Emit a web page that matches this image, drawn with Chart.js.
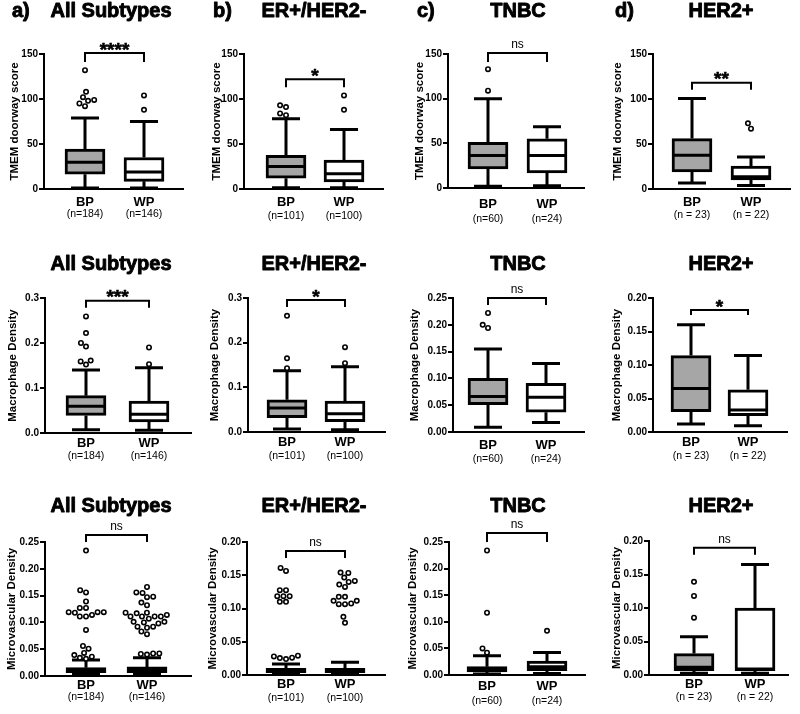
<!DOCTYPE html>
<html><head><meta charset="utf-8">
<script src="https://cdn.jsdelivr.net/npm/chart.js@4.4.1/dist/chart.umd.min.js"></script>
<style>
html,body{margin:0;padding:0;background:#fff;}
#wrap{position:relative;width:800px;height:714px;overflow:hidden;background:#fff;}
canvas{position:absolute;}
</style></head><body><div id="wrap"></div>
<script>
// ================= DATA =================
const groups = ['BP', 'WP'];
const subtypes = ['All Subtypes', 'ER+/HER2-', 'TNBC', 'HER2+'];
const panelLetters = ['a)', 'b)', 'c)', 'd)'];
const metricLabels = ['TMEM doorway score', 'Macrophage Density', 'Microvascular Density'];
const nLabelsBP = ['(n=184)', '(n=101)', '(n=60)', '(n = 23)'];
const nLabelsWP = ['(n=146)', '(n=100)', '(n=24)', '(n = 22)'];
const significance = [['****', '*', 'ns', '**'], ['***', '*', 'ns', '*'], ['ns', 'ns', 'ns', 'ns']];
const yAxisMax = [[150, 150, 150, 150], [0.3, 0.3, 0.25, 0.2], [0.25, 0.2, 0.25, 0.2]];
const yAxisStep = [[50, 50, 50, 50], [0.1, 0.1, 0.05, 0.05], [0.05, 0.05, 0.05, 0.05]];
// box statistics: [min whisker, Q1, median, Q3, max whisker]
const tmemBP = [[1, 16.4, 29.8, 44.3, 79], [1.5, 12, 25, 37.4, 78], [2, 21.4, 36.4, 51, 100], [6.7, 19, 37.5, 56, 100.6]];
const tmemWP = [[1, 8.5, 19, 35, 75], [1.5, 8, 17, 32, 66], [2.6, 17, 36.4, 55, 68.6], [4, 10, 13.7, 25.6, 35.6]];
const macBP = [[0.0074, 0.039, 0.0596, 0.083, 0.14], [0.0067, 0.032, 0.054, 0.072, 0.137], [0.0087, 0.051, 0.066, 0.1, 0.155], [0.012, 0.0303, 0.065, 0.114, 0.16]];
const macWP = [[0.006, 0.0246, 0.0417, 0.0707, 0.145], [0.005, 0.023, 0.041, 0.069, 0.146], [0.0175, 0.037, 0.065, 0.091, 0.128], [0.0095, 0.0244, 0.033, 0.063, 0.114]];
const mvdBP = [[0.003, 0.006, 0.012, 0.0156, 0.03], [0.001, 0.0035, 0.0065, 0.01, 0.0165], [0.002, 0.006, 0.0106, 0.0156, 0.036], [0.0025, 0.0065, 0.0114, 0.032, 0.057]];
const mvdWP = [[0.003, 0.006, 0.011, 0.017, 0.034], [0.001, 0.0035, 0.0065, 0.01, 0.019], [0.003, 0.008, 0.0156, 0.026, 0.0425], [0.0025, 0.0065, 0.009, 0.1, 0.165]];
// outliers
const tmemBPOut = [[92, 95, 98, 99, 102, 108, 132], [82, 84, 91, 93], [109, 133], []];
const tmemWPOut = [[88, 104], [88, 104], [], [67, 73]];
const macBPOut = [[0.152, 0.159, 0.161, 0.192, 0.2, 0.222, 0.259], [0.143, 0.165, 0.26], [0.194, 0.2, 0.222], []];
const macWPOut = [[0.153, 0.19], [0.154, 0.19], [], []];
const mvdBPOut = [
  [0.032, 0.034, 0.036, 0.039, 0.043, 0.051, 0.056, 0.086, 0.111, 0.111, 0.114, 0.118, 0.119, 0.119, 0.119, 0.127, 0.127, 0.139, 0.156, 0.16, 0.234],
  [0.024, 0.0255, 0.026, 0.028, 0.029, 0.11, 0.11, 0.1185, 0.1185, 0.1185, 0.1275, 0.1275, 0.1565, 0.161],
  [0.042, 0.05, 0.117, 0.234],
  [0.0856, 0.118, 0.139]
];
const mvdWPOut = [
  [0.04, 0.041, 0.042, 0.042, 0.078, 0.083, 0.09, 0.092, 0.092, 0.098, 0.1, 0.101, 0.101, 0.107, 0.111, 0.111, 0.111, 0.111, 0.114, 0.117, 0.118, 0.118, 0.132, 0.137, 0.147, 0.148, 0.155, 0.156, 0.166],
  [0.0785, 0.0875, 0.1065, 0.1065, 0.1075, 0.1115, 0.1115, 0.1175, 0.1175, 0.1325, 0.136, 0.14, 0.1415, 0.1465, 0.1535, 0.154],
  [0.083],
  []
];
// bracket height (in axis units) for the significance annotation
const bracketY = [[151, 122, 151, 118], [0.294, 0.2955, 0.25, 0.182], [0.263, 0.1865, 0.267, 0.19]];

const statsBP = [tmemBP, macBP, mvdBP];
const statsWP = [tmemWP, macWP, mvdWP];
const outBP = [tmemBPOut, macBPOut, mvdBPOut];
const outWP = [tmemWPOut, macWPOut, mvdWPOut];

// ================= LAYOUT (page pixels) =================
const layout = [
  [
    {ax: 44, bp: 85, wp: 144, right: 183, top: 54, bottom: 189, titleX: 15, bpOff: 18, nOff: 29, drop: 9},
    {ax: 244, bp: 286, wp: 344, right: 383, top: 54, bottom: 189, titleX: 217, bpOff: 18, nOff: 31, drop: 8},
    {ax: 448, bp: 488, wp: 547, right: 584, top: 54, bottom: 188, titleX: 420, bpOff: 21, nOff: 35, drop: 9},
    {ax: 653, bp: 692, wp: 751, right: 790, top: 54, bottom: 189, titleX: 618, bpOff: 18, nOff: 30, drop: 7}
  ],
  [
    {ax: 45, bp: 86, wp: 149, right: 191, top: 298, bottom: 433, titleX: 13, bpOff: 14.5, nOff: 27, drop: 7},
    {ax: 248, bp: 287, wp: 345, right: 385, top: 298, bottom: 432, titleX: 215, bpOff: 14.5, nOff: 27.5, drop: 7},
    {ax: 453, bp: 488, wp: 546, right: 584, top: 298, bottom: 432, titleX: 415, bpOff: 17.5, nOff: 31, drop: 7},
    {ax: 653, bp: 691, wp: 748, right: 787, top: 298, bottom: 432, titleX: 617, bpOff: 14.5, nOff: 27.5, drop: 5}
  ],
  [
    {ax: 45, bp: 86, wp: 147, right: 191, top: 542, bottom: 676, titleX: 12, bpOff: 13.5, nOff: 25, drop: 7},
    {ax: 247, bp: 286, wp: 345, right: 385, top: 542, bottom: 675, titleX: 213, bpOff: 14, nOff: 26.5, drop: 7},
    {ax: 449, bp: 487, wp: 547, right: 585, top: 542, bottom: 675, titleX: 413, bpOff: 15.5, nOff: 30, drop: 9},
    {ax: 649, bp: 694, wp: 755, right: 788, top: 541, bottom: 675, titleX: 617, bpOff: 14, nOff: 25.5, drop: 7}
  ]
];
const titleCenters = [111, 314, 518, 721];
const titleBaselines = [17, 270, 512];
const letterX = [12, 213, 417, 615];

const FONT = '"Liberation Sans", Arial, Helvetica, sans-serif';
const GRAY = '#a6a6a6';
const BAR_W = 40, CAP_W = 28, LINE_W = 3;
const BP_FONT = 13, N_FONT = 10.5, YT_FONT = 11.5;

Chart.defaults.font.family = FONT;
Chart.defaults.color = '#000';

const wrap = document.getElementById('wrap');

function swarm(values, pxPerY, d) {
  const order = values.map((v, i) => i).sort((a, b) => values[a] - values[b]);
  const placed = [];
  const off = new Array(values.length).fill(0);
  for (const i of order) {
    const y = values[i] * pxPerY;
    const near = placed.filter(p => Math.abs(p.y - y) < d);
    const cands = [0];
    near.forEach(p => {
      const dx = Math.sqrt(d * d - (p.y - y) * (p.y - y));
      cands.push(p.x + dx, p.x - dx);
    });
    cands.sort((a, b) => (Math.abs(a) - Math.abs(b)) || (a - b));
    let x = 0;
    for (const cx of cands) {
      if (near.every(p => (p.x - cx) * (p.x - cx) + (p.y - y) * (p.y - y) >= d * d - 1e-6)) { x = cx; break; }
    }
    placed.push({x, y});
    off[i] = x;
  }
  return off;
}

function makePanel(r, c) {
  const L = layout[r][c];
  const colX = c * 200, rowY = r * 240, W = 200, H = r === 2 ? 234 : 240;
  const cv = document.createElement('canvas');
  cv.width = W; cv.height = H;
  cv.style.left = colX + 'px'; cv.style.top = rowY + 'px';
  cv.style.width = W + 'px'; cv.style.height = H + 'px';
  wrap.appendChild(cv);

  const yMax = yAxisMax[r][c], yStep = yAxisStep[r][c];
  const dec = r === 0 ? 0 : (yStep >= 0.1 ? 1 : 2);
  const unit = L.wp - L.bp;
  const xmin = 1 - (L.bp - L.ax) / unit;
  const xmax = 2 + (L.right - L.wp) / unit;
  const pxPerY = (L.bottom - L.top) / yMax;
  const titleLH = YT_FONT * 1.2;
  const padLeft = L.titleX - colX - titleLH / 2;
  const yAxisWidth = L.ax - colX - padLeft;
  const padTop = L.top - rowY;
  const padRight = colX + W - L.right;
  const xPad = L.bpOff - 0.9465 * BP_FONT;
  const x2Pad = 2;
  const hx = L.nOff - 0.9465 * N_FONT - x2Pad;
  const hx2 = 16;
  const padBottom = H - (L.bottom - rowY) - hx - hx2;

  const sB = statsBP[r][c], sW = statsWP[r][c];
  const oB = outBP[r][c], oW = outWP[r][c];
  const pts = [];
  [[oB, 1], [oW, 2]].forEach(([arr, xc]) => {
    const offs = swarm(arr, pxPerY, 6.2);
    arr.forEach((v, i) => pts.push({x: xc + offs[i] / unit, y: v}));
  });

  const nLabels = [nLabelsBP[c], nLabelsWP[c]];
  const setTicks = s => { s.ticks = groups.map((g, i) => ({value: i + 1})); };

  const boxPlugin = {
    id: 'boxExtras' + r + c,
    beforeDatasetsDraw(chart) {
      const ctx = chart.ctx, xs = chart.scales.x, ys = chart.scales.y;
      ctx.save();
      ctx.strokeStyle = '#000'; ctx.lineWidth = LINE_W; ctx.lineCap = 'butt';
      [sB, sW].forEach((s, i) => {
        const x = xs.getPixelForValue(i + 1);
        const yMin = ys.getPixelForValue(s[0]), yQ1 = ys.getPixelForValue(s[1]);
        const yQ3 = ys.getPixelForValue(s[3]), yMx = ys.getPixelForValue(s[4]);
        ctx.beginPath();
        ctx.moveTo(x, yQ3); ctx.lineTo(x, yMx);
        ctx.moveTo(x, yQ1); ctx.lineTo(x, yMin);
        ctx.moveTo(x - CAP_W / 2, yMx); ctx.lineTo(x + CAP_W / 2, yMx);
        ctx.moveTo(x - CAP_W / 2, yMin); ctx.lineTo(x + CAP_W / 2, yMin);
        ctx.stroke();
      });
      ctx.restore();
    },
    afterDatasetDraw(chart, args) {
      if (args.meta.type !== 'bar') return;
      const ctx = chart.ctx, xs = chart.scales.x, ys = chart.scales.y;
      ctx.save();
      ctx.strokeStyle = '#000'; ctx.lineWidth = LINE_W;
      [sB, sW].forEach((s, i) => {
        const x = xs.getPixelForValue(i + 1);
        const y = ys.getPixelForValue(s[2]);
        ctx.beginPath();
        ctx.moveTo(x - BAR_W / 2, y); ctx.lineTo(x + BAR_W / 2, y);
        ctx.stroke();
      });
      ctx.restore();
    },
    afterDraw(chart) {
      const ctx = chart.ctx, xs = chart.scales.x, ys = chart.scales.y;
      ctx.save();
      // bracket
      const xb = xs.getPixelForValue(1), xw = xs.getPixelForValue(2);
      const yb = ys.getPixelForValue(bracketY[r][c]);
      ctx.strokeStyle = '#000'; ctx.lineWidth = 2;
      ctx.beginPath();
      ctx.moveTo(xb, yb + L.drop); ctx.lineTo(xb, yb); ctx.lineTo(xw, yb); ctx.lineTo(xw, yb + L.drop);
      ctx.stroke();
      const sig = significance[r][c];
      ctx.fillStyle = '#000'; ctx.textAlign = 'center'; ctx.textBaseline = 'alphabetic';
      if (sig === 'ns') {
        ctx.font = '12px ' + FONT;
        ctx.fillText(sig, (xb + xw) / 2, yb - 5);
      } else {
        ctx.font = 'bold 19px ' + FONT;
        ctx.lineWidth = 0.6;
        ctx.fillText(sig, (xb + xw) / 2, yb + 2.5);
        ctx.strokeText(sig, (xb + xw) / 2, yb + 2.5);
      }
      // panel title (slightly heavier than plain bold)
      ctx.font = 'bold 20px ' + FONT;
      ctx.lineWidth = 0.9; ctx.lineJoin = 'round';
      ctx.textAlign = 'center';
      ctx.fillText(subtypes[c], titleCenters[c] - colX, titleBaselines[r] - rowY);
      ctx.strokeText(subtypes[c], titleCenters[c] - colX, titleBaselines[r] - rowY);
      if (r === 0) {
        ctx.textAlign = 'left';
        ctx.fillText(panelLetters[c], letterX[c] - colX, titleBaselines[r] - rowY);
        ctx.strokeText(panelLetters[c], letterX[c] - colX, titleBaselines[r] - rowY);
      }
      ctx.restore();
    }
  };

  new Chart(cv, {
    type: 'bar',
    data: {
      datasets: [
        {type: 'scatter', data: pts, pointRadius: 2.2, pointHoverRadius: 2.2, pointBorderWidth: 1.6,
         pointBackgroundColor: '#fff', pointBorderColor: '#000', clip: false, order: 0},
        {type: 'bar', data: [{x: 1, y: [sB[1], sB[3]]}, {x: 2, y: [sW[1], sW[3]]}],
         backgroundColor: [GRAY, '#fff'], borderColor: '#000', borderWidth: LINE_W, borderSkipped: false,
         barThickness: BAR_W, clip: false, order: 1}
      ]
    },
    options: {
      responsive: false, animation: false, devicePixelRatio: 1,
      layout: {padding: {left: padLeft, top: padTop, right: padRight, bottom: padBottom}},
      plugins: {legend: {display: false}, tooltip: {enabled: false}, title: {display: false}},
      scales: {
        x: {
          type: 'linear', position: 'bottom', min: xmin, max: xmax, offset: false,
          grid: {display: false, drawTicks: false},
          border: {display: true, color: '#000', width: 2},
          afterBuildTicks: setTicks,
          ticks: {callback: v => groups[v - 1] || '', font: {size: BP_FONT, weight: 'bold'}, color: '#000',
                  padding: xPad, autoSkip: false, maxRotation: 0},
          afterFit: s => { s.height = hx; }
        },
        x2: {
          type: 'linear', position: 'bottom', min: xmin, max: xmax, offset: false,
          grid: {display: false, drawTicks: false},
          border: {display: false},
          afterBuildTicks: setTicks,
          ticks: {callback: v => nLabels[v - 1] || '', font: {size: N_FONT}, color: '#000',
                  padding: x2Pad, autoSkip: false, maxRotation: 0},
          afterFit: s => { s.height = hx2; }
        },
        y: {
          type: 'linear', position: 'left', min: 0, max: yMax,
          afterBuildTicks: s => {
            const t = [];
            for (let k = 0; k * yStep <= yMax + 1e-9; k++) t.push({value: +(k * yStep).toFixed(4)});
            s.ticks = t;
          },
          grid: {drawOnChartArea: false, drawTicks: true, tickLength: 5, color: '#000', lineWidth: 2},
          border: {display: true, color: '#000', width: 2},
          ticks: {callback: v => Number(v).toFixed(dec), font: {size: 10, weight: 'bold'}, color: '#000', padding: 1},
          title: {display: true, text: metricLabels[r], font: {size: YT_FONT, weight: 'bold'}, color: '#000', padding: 0},
          afterFit: s => { s.width = yAxisWidth; }
        }
      }
    },
    plugins: [boxPlugin]
  });
}

for (let r = 0; r < 3; r++) for (let c = 0; c < 4; c++) makePanel(r, c);
</script></body></html>
